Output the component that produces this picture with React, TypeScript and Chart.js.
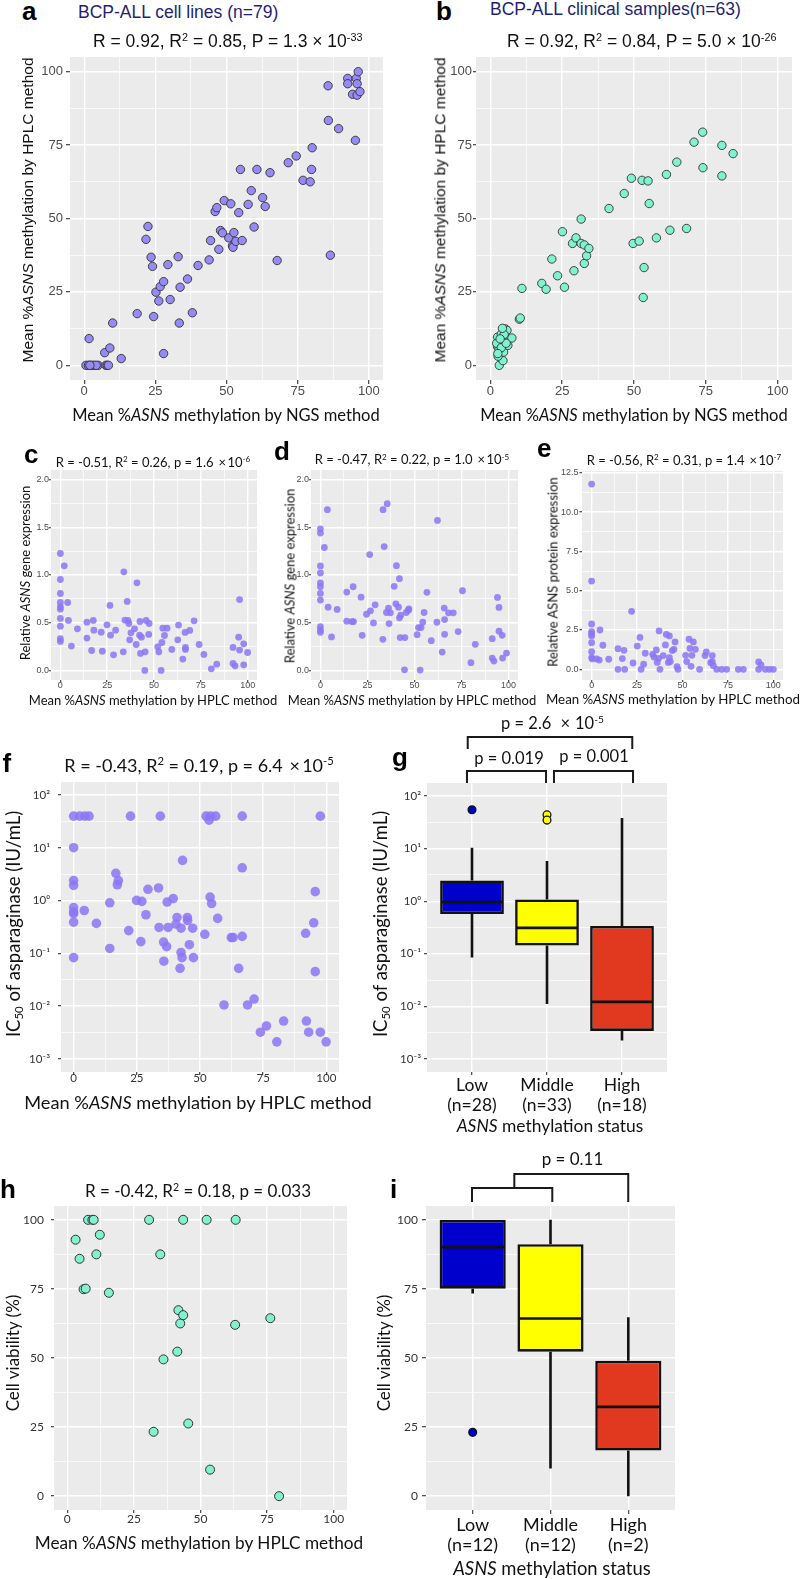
import React, { useEffect, useRef } from 'react';
import { Chart, registerables } from 'chart.js';
Chart.register(...registerables);

// ---------------- data ----------------
// a: BCP-ALL cell lines, NGS vs HPLC
const aNGS = [1.7,0.6,2.3,3.5,4.9,7.6,8.1,7.2,9.0,10.0,13.0,18.6,21.7,22.4,23.5,24.0,24.4,25.2,26.2,26.7,27.9,27.9,29.4,30.2,33.0,33.4,33.7,36.3,38.0,40.0,43.9,44.4,46.0,46.6,47.3,47.9,48.6,49.2,50.8,51.5,52.1,52.3,52.6,53.3,54.3,54.9,55.5,57.6,58.7,59.7,60.7,62.7,63.6,65.3,67.8,71.7,74.5,76.9,79.4,79.9,80.1,85.7,85.8,86.5,89.4,92.6,92.6,94.3,95.6,95.9,96.3,95.9,96.9,95.3,1.5,3.0,4.2,8.5,2.0];
const aHPLC = [9.1,0,0,0,0,0,0,4.3,5.9,14.4,2.3,17.6,42.9,47.3,36.8,33.7,16.6,24.9,21.9,26.8,28.5,4.0,34.3,22.4,37.0,14.4,26.6,29.4,17.9,34.0,35.9,42.5,52.4,53.7,39.5,45.9,45.1,56.1,43.4,55.0,40.7,40.2,45.2,42.2,52.0,66.7,42.5,54.8,59.5,47.1,66.7,57.1,54.1,65.6,35.7,69.0,71.3,63.0,62.5,66.7,74.1,95.2,83.4,37.5,80.6,97.7,95.9,92.3,97.7,95.9,100,92.0,93.2,76.6,0,0,0,0,0];
// b: clinical samples
const bNGS = [3.1,4.4,2.7,3.5,4.6,2.5,3.2,2.9,2.5,3.8,5.2,6.1,7.5,5.2,5.8,4.0,10.1,10.4,11.0,17.9,19.4,21.4,23.4,25.1,25.8,28.6,29.1,29.8,31.6,31.6,32.7,32.7,33.5,34.3,41.3,46.6,49.1,49.7,51.8,52.8,53.2,53.5,54.9,55.3,57.8,61.3,62.5,64.9,68.3,70.9,73.9,74.0,80.6,80.6,84.5,3.0,2.2,4.8,3.8,2.6,4.2,5.5,3.4];
const bHPLC = [0,1.6,3.1,4.8,4.5,6.4,7.0,8.1,9.6,10.6,9.3,6.8,9.3,12.4,11.9,8.7,15.7,16.1,26.2,27.9,25.9,36.2,30.5,45.5,26.6,41.5,32.2,43.4,49.8,41.5,41.0,34.7,37.3,39.8,53.4,58.5,63.7,41.5,42.3,63.0,23.1,33.3,62.8,55.1,43.4,65.0,46.0,69.2,46.6,76.0,79.4,67.3,74.9,64.5,72.1,5.5,7.5,10.5,6.0,4.0,12.6,7.5,9.0];
// c: gene expression (set 1)
const cHPLC = [0,2.1,0,0,0,0,0,0,0,0,0,3.9,4.3,5.9,9.1,14.2,14.2,16.7,17.6,17.9,21.8,22.4,24.9,26.5,26.8,28.4,29.5,33.6,33.9,34.5,35.7,36.1,36.6,37.0,37.7,39.6,40.5,40.9,42.3,42.5,42.8,43.3,45.1,45.3,45.8,47.2,47.4,52.0,52.6,53.8,54.2,54.7,55.6,57.0,59.5,62.7,63.1,65.4,66.6,66.8,66.8,69.1,71.4,74.1,76.6,80.6,83.5,92.2,92.2,93.3,95.2,95.7,95.7,97.9,97.9,100];
const cGene = [1.225,1.096,0.953,0.806,0.712,0.667,0.642,0.545,0.464,0.332,0.304,0.712,0.524,0.255,0.436,0.506,0.339,0.209,0.524,0.422,0.401,0.202,0.478,0.681,0.370,0.164,0.422,0.195,1.033,0.527,0.723,0.524,0.492,0.321,0.394,0.436,0.272,0.918,0.370,0.513,0.178,0.349,0.0,0.195,0.524,0.377,0.492,0.248,0.195,0.0,0.293,0.443,0.366,0.443,0.220,0.321,0.475,0.119,0.398,0.220,0.241,0.419,0.520,0.272,0.168,0.017,0.066,0.241,0.073,0.049,0.349,0.743,0.213,0.279,0.059,0.188];
// d: gene expression (set 2)
const dHPLC = [3.7,0,0,2.1,0,0,0,0,0,0,0,0,0,4.1,5.9,8.9,14.0,14.0,16.7,17.4,17.6,21.6,22.2,24.5,26.2,26.6,28.2,29.1,33.2,33.3,33.9,35.5,35.1,36.2,36.5,37.2,39.2,40.1,40.4,41.5,42.0,42.0,42.4,42.7,44.7,44.9,45.6,46.8,47.0,51.4,52.1,53.0,53.5,54.4,55.1,56.6,58.9,61.9,62.2,64.7,65.8,66.0,66.0,68.1,70.6,73.2,75.5,80.0,82.3,91.3,91.3,92.2,94.1,94.9,94.9,96.6,96.8,98.9];
const dGene = [1.684,1.484,1.439,1.288,1.095,1.021,0.916,0.877,0.807,0.737,0.460,0.425,0.400,0.663,0.351,0.639,0.821,0.516,0.512,0.877,0.512,0.768,0.368,0.589,1.214,0.625,0.498,0.688,0.326,1.684,1.298,1.747,0.607,0.653,0.491,0.604,0.881,0.698,1.098,0.663,0.961,0.551,0.344,0.579,0.007,0.344,0.607,0.632,0.646,0.375,0.449,0.004,0.449,0.505,0.607,0.818,0.312,0.505,1.572,0.193,0.653,0.533,0.379,0.604,0.604,0.407,0.835,0.081,0.274,0.333,0.130,0.098,0.765,0.660,0.411,0.368,0.130,0.182];
// e: protein expression
const eHPLC = [0,0,0,0,0,0,0,0,0,0.4,2.8,4.2,4.6,6.2,9.4,14.5,14.5,16.9,17.8,18.2,22.0,22.8,25.1,26.6,27.2,28.6,29.5,33.6,34.3,35.6,36.1,36.9,37.1,37.6,39.4,40.6,41.1,42.2,42.8,42.8,43.3,44.4,45.3,45.9,47.0,47.5,51.7,52.3,53.6,54.1,54.7,55.2,56.0,57.1,59.4,62.4,63.1,65.5,66.4,66.4,67.0,68.8,71.6,74.3,80.7,83.5,91.9,91.9,93.2,95.6,97.8,100];
const eProtein = [11.78,5.61,2.88,2.39,2.25,2.12,1.69,1.12,0.74,0.66,0.66,0.59,2.50,1.53,0.64,1.31,0,0.68,1.21,0,3.69,0.40,1.48,2.03,0,0.32,1.02,0.95,0.78,1.23,0.44,0.70,2.44,0,0.87,1.55,2.22,0.44,2.12,0.74,0.49,1.19,1.27,1.74,0.17,0,0.89,0.49,1.91,1.33,0.19,0.89,1.74,1.27,0,0.87,1.10,0.42,0.87,0.49,0.23,0,0,0,0,0,0.47,0,0.28,0,0,0];
// f: IC50 of asparaginase
const fHPLC = [0,2.4,4.4,6.1,22.5,34.3,52.4,54.2,56.2,66.7,97.6,53.6,0,43.1,66.7,16.7,17.7,17.3,0,0,29.4,33.6,95.6,54.0,39.4,24.9,27.0,14.3,37.0,54.6,0,0,4.2,0,28.6,40.9,45.0,57.0,45.1,0,9.0,95.0,40.5,33.8,37.4,42.5,47.1,21.8,51.9,91.8,62.4,63.1,66.7,26.6,35.6,36.8,45.8,14.3,42.5,0,42.9,47.4,35.7,42.1,65.3,95.6,71.4,59.5,68.8,83.1,92.1,76.3,73.9,93.0,97.6,80.4,99.9];
const fIC50 = [40,40,40,40,40,40,40,40,40,40,40,33.5,10.1,5.8,4.2,3.3,2.4,2.0,2.4,1.95,1.64,1.74,1.48,1.17,1.09,1.01,0.97,0.91,0.94,0.88,0.74,0.61,0.65,0.57,0.54,0.48,0.48,0.46,0.42,0.39,0.37,0.38,0.36,0.31,0.31,0.30,0.30,0.27,0.23,0.24,0.20,0.20,0.21,0.167,0.164,0.134,0.146,0.124,0.104,0.083,0.083,0.083,0.071,0.052,0.052,0.045,0.0136,0.0105,0.0105,0.0052,0.0052,0.0042,0.0032,0.0032,0.0032,0.0021,0.0021];
// g: IC50 by methylation group (box summaries)
const groupNames = ['Low', 'Middle', 'High'];
const gCounts = ['(n=28)', '(n=33)', '(n=18)'];
const gLower = [0.0845, 0.0111, 0.00223];
const gQ1 = [0.571, 0.143, 0.0034];
const gMedian = [0.966, 0.31, 0.0121];
const gQ3 = [2.49, 1.08, 0.339];
const gUpper = [10.4, 5.8, 38.2];
const gOutGroup = [1, 2, 2];
const gOutValue = [55, 44, 35];
// h: cell viability
const hHPLC = [3.1,4.6,6.1,6.9,7.8,9.4,9.9,10.9,12.2,15.6,30.7,32.4,34.9,36.1,41.3,41.7,42.4,43.5,43.5,45.4,52.3,53.6,63.0,63.2,76.2,79.5];
const hViability = [92.8,85.9,74.9,75.1,100,100,100,87.5,94.6,73.6,100,23.3,87.5,49.5,52.3,67.3,62.5,100,65.5,26.3,100,9.6,62.0,100,64.4,0];
// i: viability by group
const iCounts = ['(n=12)', '(n=12)', '(n=2)'];
const iLower = [73.3, 10.0, 0];
const iQ1 = [75.1, 52.3, 16.5];
const iMedian = [90.1, 64.3, 32.3];
const iQ3 = [100, 91.2, 49.0];
const iUpper = [100, 100, 64.7];
const iOutGroup = [1];
const iOutValue = [23.1];

// ticks
const pctTicks = [0, 12.5, 25, 37.5, 50, 62.5, 75, 87.5, 100];
const pctMajor = [0, 25, 50, 75, 100];
const pctLabels = ['0', '25', '50', '75', '100'];
const geneTicks = [0, 0.25, 0.5, 0.75, 1, 1.25, 1.5, 1.75, 2];
const geneMajor = [0, 0.5, 1, 1.5, 2];
const geneLabels = ['0.0', '0.5', '1.0', '1.5', '2.0'];
const protTicks = [0, 1.25, 2.5, 3.75, 5, 6.25, 7.5, 8.75, 10, 11.25, 12.5];
const protMajor = [0, 2.5, 5, 7.5, 10, 12.5];
const protLabels = ['0.0', '2.5', '5.0', '7.5', '10.0', '12.5'];
const logTicks = [1e-3, 10 ** -2.5, 1e-2, 10 ** -1.5, 1e-1, 10 ** -0.5, 1, 10 ** 0.5, 10, 10 ** 1.5, 100];
const logMajor = [1e-3, 1e-2, 1e-1, 1, 10, 100];
const logLabels = ['10⁻³', '10⁻²', '10⁻¹', '10⁰', '10¹', '10²'];
const groupTicks = [1, 2, 3];

// ---------------- styling ----------------
const NAVY = '#1f1f73';
const SANS = '"Liberation Sans", Arial, Helvetica, sans-serif';
const CAL = 'Lato, "Open Sans", sans-serif';
const PURPLE_EDGE = '#968af6';
const PURPLE_SOFT = 'rgba(140,118,245,0.85)';
const AQUA = '#80f2d0';
const BOX_COLORS = ['#0000cc', '#ffff00', '#e0391f'];
const BOX_W = 0.85;

type Geo = { left: number; top: number; width: number; height: number; padT: number; padR: number; yW: number; xH: number };
function geom(pl: number, pt: number, pr: number, pb: number, yW: number, xH: number, padT = 22, padR = 14): Geo {
  return { left: pl - yW, top: pt - padT, width: pr - pl + yW + padR, height: pb - pt + padT + xH, padT, padR, yW, xH };
}

const near = (a: number, b: number) => Math.abs(a - b) <= 1e-9 * Math.max(Math.abs(a), Math.abs(b), 1e-12);

function mkAxis(o: any) {
  const idx = (v: number) => o.major.findIndex((m: number) => near(m, v));
  return {
    type: o.type || 'linear',
    position: o.pos === 'x' ? 'bottom' : 'left',
    min: o.min,
    max: o.max,
    bounds: 'data',
    offset: false,
    afterBuildTicks: (s: any) => { s.ticks = o.ticks.map((v: number) => ({ value: v })); },
    afterFit: (s: any) => { if (o.pos === 'x') s.height = o.size; else s.width = o.size; },
    ticks: {
      autoSkip: false, maxRotation: 0, minRotation: 0,
      padding: o.pad, color: o.color, font: o.font,
      callback: (v: number) => { const k = idx(v); return k < 0 ? '' : o.labels[k]; },
    },
    grid: {
      offset: false,
      color: '#ffffff',
      lineWidth: (c: any) => (c.tick && idx(c.tick.value) >= 0 ? 1.4 : 0.7),
      drawTicks: true,
      tickLength: o.tl,
      tickWidth: 1.1,
      tickColor: (c: any) => (c.tick && idx(c.tick.value) >= 0 ? '#333333' : 'rgba(0,0,0,0)'),
    },
    border: { display: false },
  };
}

const panelBg = {
  id: 'panelBg',
  beforeDraw(chart: any) {
    const { ctx, chartArea } = chart;
    ctx.save();
    ctx.fillStyle = '#ebebeb';
    ctx.fillRect(chartArea.left, chartArea.top, chartArea.right - chartArea.left, chartArea.bottom - chartArea.top);
    ctx.restore();
  },
};

function bracketPlugin(specs: any[]) {
  return {
    id: 'brackets',
    afterDraw(chart: any) {
      const { ctx, chartArea } = chart;
      const x = chart.scales.x;
      ctx.save();
      ctx.strokeStyle = '#1a1a1a';
      ctx.lineWidth = 2;
      ctx.lineJoin = 'miter';
      specs.forEach((b) => {
        const x1 = x.getPixelForValue(b.from);
        const x2 = x.getPixelForValue(b.to);
        ctx.beginPath();
        ctx.moveTo(x1, chartArea.top + b.l);
        ctx.lineTo(x1, chartArea.top + b.y);
        ctx.lineTo(x2, chartArea.top + b.y);
        ctx.lineTo(x2, chartArea.top + b.r);
        ctx.stroke();
      });
      ctx.restore();
    },
  };
}

function baseOptions(geo: Geo, x: any, y: any) {
  return {
    responsive: false,
    animation: false,
    events: [],
    layout: { padding: { top: geo.padT, right: geo.padR, left: 0, bottom: 0 } },
    plugins: { legend: { display: false }, tooltip: { enabled: false } },
    scales: { x: mkAxis({ ...x, pos: 'x', size: geo.xH }), y: mkAxis({ ...y, pos: 'y', size: geo.yW }) },
  };
}

function scatterConfig(geo: Geo, xs: number[], ys: number[], pt: any, x: any, y: any) {
  return {
    type: 'scatter',
    data: {
      datasets: [{
        data: xs.map((v, i) => ({ x: v, y: ys[i] })),
        pointRadius: pt.r, pointHoverRadius: pt.r,
        backgroundColor: pt.fill, borderColor: pt.stroke, borderWidth: pt.bw,
        clip: false,
      }],
    },
    options: baseOptions(geo, x, y),
    plugins: [panelBg],
  };
}

function boxConfig(geo: Geo, s: any, x: any, y: any, brackets: any[]) {
  const boxes = s.q1.map((q: number, i: number) => ({ x: i + 1, y: [q, s.q3[i]] }));
  const meds = s.med.map((m: number, i: number) => ({ x: i + 1, y: m }));
  const whisk: any[] = [];
  s.q1.forEach((q: number, i: number) => {
    whisk.push({ x: i + 1, y: s.q3[i] }, { x: i + 1, y: s.hi[i] }, { x: i + 1, y: null });
    whisk.push({ x: i + 1, y: q }, { x: i + 1, y: s.lo[i] }, { x: i + 1, y: null });
  });
  const outs = s.outG.map((g: number, i: number) => ({ x: g, y: s.outV[i] }));
  const halfW = (ctx: any) => {
    const sc = ctx.chart.scales.x;
    return sc.getPixelForValue(1 + BOX_W / 2) - sc.getPixelForValue(1) - 1.2;
  };
  return {
    type: 'scatter',
    data: {
      datasets: [
        { type: 'scatter', data: outs, order: 0, pointRadius: 3.9, pointHoverRadius: 3.9,
          backgroundColor: s.outG.map((g: number) => BOX_COLORS[g - 1]), borderColor: '#111', borderWidth: 1.3, clip: false },
        { type: 'scatter', data: meds, order: 1, pointStyle: 'line', pointRadius: halfW, pointHoverRadius: halfW,
          borderColor: '#111', borderWidth: 2.7, clip: false },
        { type: 'bar', data: boxes, order: 2, backgroundColor: BOX_COLORS, borderColor: '#111', borderWidth: 2.6,
          borderSkipped: false, barPercentage: BOX_W, categoryPercentage: 1, grouped: false },
        { type: 'scatter', data: whisk, order: 3, showLine: true, spanGaps: false, pointRadius: 0, pointHoverRadius: 0,
          borderColor: '#111', borderWidth: 2.6, clip: false },
      ],
    },
    options: baseOptions(geo, x, y),
    plugins: [panelBg, bracketPlugin(brackets)],
  };
}

// ---------------- geometry ----------------
const geoA = geom(70, 57, 383, 380, 50, 30);
const geoB = geom(476, 57, 792, 380, 50, 30);
const geoC = geom(51, 470, 257, 680, 40, 20);
const geoD = geom(311, 470, 518, 680, 40, 20);
const geoE = geom(582, 471, 783, 680, 40, 20);
const geoF = geom(61, 782, 339, 1072, 60, 30);
const geoG = geom(427, 783, 667, 1072, 40, 62, 56);
const geoH = geom(54, 1206, 347, 1510, 50, 28);
const geoI = geom(426, 1206, 675, 1510, 40, 62, 40);

const fSans13 = { family: SANS, size: 13, lineHeight: 1 };
const fSans9 = { family: SANS, size: 9, lineHeight: 1 };
const fCal = (size: number, lh = 1) => ({ family: CAL, size, lineHeight: lh });

const pctAxis = (tl: number, pad: number, font: any, color: string) => ({ min: -5, max: 105, ticks: pctTicks, major: pctMajor, labels: pctLabels, tl, pad, font, color });

const configs: { geo: Geo; make: () => any }[] = [
  { geo: geoA, make: () => scatterConfig(geoA, aNGS, aHPLC, { r: 4.2, fill: PURPLE_EDGE, stroke: '#333', bw: 0.9 },
      pctAxis(4, 0.5, fSans13, '#4d4d4d'), pctAxis(4, 3, fSans13, '#4d4d4d')) },
  { geo: geoB, make: () => scatterConfig(geoB, bNGS, bHPLC, { r: 4.2, fill: AQUA, stroke: '#333', bw: 0.9 },
      pctAxis(4, 0.5, fSans13, '#4d4d4d'), pctAxis(3, 1, fSans13, '#4d4d4d')) },
  { geo: geoC, make: () => scatterConfig(geoC, cHPLC, cGene, { r: 3.4, fill: PURPLE_SOFT, stroke: 'rgba(0,0,0,0)', bw: 0 },
      pctAxis(2, -0.5, fSans9, '#4d4d4d'),
      { min: -0.1, max: 2.1, ticks: geneTicks, major: geneMajor, labels: geneLabels, tl: 2, pad: 0, font: fSans9, color: '#4d4d4d' }) },
  { geo: geoD, make: () => scatterConfig(geoD, dHPLC, dGene, { r: 3.4, fill: PURPLE_SOFT, stroke: 'rgba(0,0,0,0)', bw: 0 },
      pctAxis(2, -0.5, fSans9, '#4d4d4d'),
      { min: -0.1, max: 2.1, ticks: geneTicks, major: geneMajor, labels: geneLabels, tl: 2, pad: 0, font: fSans9, color: '#4d4d4d' }) },
  { geo: geoE, make: () => scatterConfig(geoE, eHPLC, eProtein, { r: 3.4, fill: PURPLE_SOFT, stroke: 'rgba(0,0,0,0)', bw: 0 },
      { min: -5.3, max: 105.3, ticks: pctTicks, major: pctMajor, labels: pctLabels, tl: 2, pad: -0.5, font: fSans9, color: '#4d4d4d' },
      { min: -0.68, max: 12.61, ticks: protTicks, major: protMajor, labels: protLabels, tl: 2.5, pad: 1, font: fSans9, color: '#4d4d4d' }) },
  { geo: geoF, make: () => scatterConfig(geoF, fHPLC, fIC50, { r: 4.8, fill: PURPLE_SOFT, stroke: 'rgba(0,0,0,0)', bw: 0 },
      pctAxis(3, -2, fCal(11.5), '#333'),
      { type: 'logarithmic', min: 10 ** -3.25, max: 10 ** 2.25, ticks: logTicks, major: logMajor, labels: logLabels, tl: 3, pad: 8, font: fCal(11.5), color: '#333' }) },
  { geo: geoG, make: () => boxConfig(geoG,
      { lo: gLower, q1: gQ1, med: gMedian, q3: gQ3, hi: gUpper, outG: gOutGroup, outV: gOutValue },
      { min: 0.4, max: 3.6, ticks: groupTicks, major: groupTicks, labels: groupNames.map((n, i) => [n, gCounts[i]]), tl: 3, pad: 0, font: fCal(17.5, 1.15), color: '#111' },
      { type: 'logarithmic', min: 10 ** -3.25, max: 10 ** 2.25, ticks: logTicks, major: logMajor, labels: logLabels, tl: 3, pad: 3, font: fCal(11.5), color: '#333' },
      [
        { from: 0.943, to: 3.137, y: -46, l: -34, r: -34 },
        { from: 0.933, to: 1.987, y: -12, l: 0, r: 0 },
        { from: 2.093, to: 3.147, y: -12, l: 0, r: 0 },
      ]) },
  { geo: geoH, make: () => scatterConfig(geoH, hHPLC, hViability, { r: 4.5, fill: AQUA, stroke: '#333', bw: 1 },
      pctAxis(3, 0.5, fCal(12), '#333'), pctAxis(3, 7, fCal(12), '#333')) },
  { geo: geoI, make: () => boxConfig(geoI,
      { lo: iLower, q1: iQ1, med: iMedian, q3: iQ3, hi: iUpper, outG: iOutGroup, outV: iOutValue },
      { min: 0.4, max: 3.6, ticks: groupTicks, major: groupTicks, labels: groupNames.map((n, i) => [n, iCounts[i]]), tl: 4, pad: 1, font: fCal(18, 1.1), color: '#111' },
      pctAxis(4, 4, fCal(12), '#333'),
      [
        { from: 1.535, to: 2.999, y: -32, l: -18, r: -4 },
        { from: 0.991, to: 2.023, y: -18, l: -4, r: -4 },
      ]) },
];

// ---------------- components ----------------
function ChartCanvas({ geo, make }: { geo: Geo; make: () => any }) {
  const ref = useRef<HTMLCanvasElement | null>(null);
  useEffect(() => {
    if (!ref.current) return;
    const ch = new Chart(ref.current, make());
    return () => ch.destroy();
  }, []);
  return (
    <canvas ref={ref} width={geo.width} height={geo.height}
      style={{ position: 'absolute', left: geo.left, top: geo.top, width: geo.width, height: geo.height }} />
  );
}

function T({ x, y, s, f = CAL, w = 400, c = '#111', a = 'm', r = false, children }: any) {
  const tx = a === 's' ? '0' : a === 'e' ? '-100%' : '-50%';
  return (
    <div style={{
      position: 'absolute', left: x, top: y, fontFamily: f, fontSize: s, fontWeight: w, color: c,
      lineHeight: 1, whiteSpace: 'nowrap', transform: `translate(${tx},-50%)${r ? ' rotate(-90deg)' : ''}`,
    }}>{children}</div>
  );
}

function L({ x, base, children }: any) {
  const size = 26;
  return (
    <div style={{ position: 'absolute', left: x, top: base - 0.8465 * size, fontFamily: SANS, fontWeight: 700, fontSize: size, lineHeight: 1, color: '#000' }}>{children}</div>
  );
}

const Sup = ({ children }: any) => <span style={{ fontSize: '0.62em', position: 'relative', top: '-0.55em', lineHeight: 0 }}>{children}</span>;
const Sub = ({ children }: any) => <span style={{ fontSize: '0.62em', position: 'relative', top: '0.3em', lineHeight: 0 }}>{children}</span>;
const X = () => <span style={{ margin: '0 0.12em' }}>×</span>;

export default function App() {
  return (
    <div style={{ position: 'absolute', left: 0, top: 0, width: 800, height: 1579, overflow: 'hidden', background: '#fff' }}>
      {configs.map((c, i) => <ChartCanvas key={i} geo={c.geo} make={c.make} />)}

      {/* a */}
      <L x={22} base={20}>a</L>
      <T x={78} y={12.7} s={17.5} f={SANS} c={NAVY} a="s">BCP-ALL cell lines (n=79)</T>
      <T x={93} y={41.7} s={17.5} f={SANS} a="s">R = 0.92, R<Sup>2</Sup> = 0.85, P = 1.3 × 10<Sup>-33</Sup></T>
      <T x={28} y={210} s={15.5} f={SANS} r>Mean %<i>ASNS</i> methylation by HPLC method</T>
      <T x={226} y={415} s={16.5}>Mean %<i>ASNS</i> methylation by NGS method</T>

      {/* b */}
      <L x={436} base={20}>b</L>
      <T x={490} y={10} s={17.5} f={SANS} c={NAVY} a="s">BCP-ALL clinical samples(n=63)</T>
      <T x={507} y={41.5} s={17.5} f={SANS} a="s">R = 0.92, R<Sup>2</Sup> = 0.84, P = 5.0 × 10<Sup>-26</Sup></T>
      <T x={440} y={210} s={15.5} f={SANS} r>Mean %<i>ASNS</i> methylation by HPLC method</T>
      <T x={634} y={415} s={16.5}>Mean %<i>ASNS</i> methylation by NGS method</T>

      {/* c */}
      <L x={24} base={463}>c</L>
      <T x={153} y={461.5} s={13}>R = -0.51, R<Sup>2</Sup> = 0.26, p = 1.6 <X />10<Sup>-6</Sup></T>
      <T x={25} y={573} s={13} r>Relative <i>ASNS</i> gene expression</T>
      <T x={153} y={700} s={13}>Mean %<i>ASNS</i> methylation by HPLC method</T>

      {/* d */}
      <L x={274} base={460}>d</L>
      <T x={412} y={459} s={13}>R = -0.47, R<Sup>2</Sup> = 0.22, p = 1.0 <X />10<Sup>-5</Sup></T>
      <T x={290} y={576} s={13} r>Relative <i>ASNS</i> gene expression</T>
      <T x={412} y={700} s={13}>Mean %<i>ASNS</i> methylation by HPLC method</T>

      {/* e */}
      <L x={537} base={457}>e</L>
      <T x={684} y={459.5} s={13}>R = -0.56, R<Sup>2</Sup> = 0.31, p = 1.4 <X />10<Sup>-7</Sup></T>
      <T x={553} y={572} s={13} r>Relative ASNS protein expression</T>
      <T x={673} y={700} s={13.3}>Mean %<i>ASNS</i> methylation by HPLC method</T>

      {/* f */}
      <L x={2.5} base={772}>f</L>
      <T x={199} y={764.5} s={18}>R = -0.43, R<Sup>2</Sup> = 0.19, p = 6.4 <X />10<Sup>-5</Sup></T>
      <T x={13} y={924} s={18.5} r>IC<Sub>50</Sub> of asparaginase (IU/mL)</T>
      <T x={198} y={1102} s={18.2}>Mean %<i>ASNS</i> methylation by HPLC method</T>

      {/* g */}
      <L x={392} base={766}>g</L>
      <T x={552.5} y={723} s={16.5}>p = 2.6 <span style={{ margin: '0 0.3em' }}>×</span>10<Sup>-5</Sup></T>
      <T x={509} y={758} s={16.5}>p = 0.019</T>
      <T x={594} y={756} s={16.5}>p = 0.001</T>
      <T x={380} y={924} s={18.5} r>IC<Sub>50</Sub> of asparaginase (IU/mL)</T>
      <T x={550} y={1126} s={17.4}><i>ASNS</i> methylation status</T>

      {/* h */}
      <L x={0} base={1198}>h</L>
      <T x={198} y={1189.5} s={17}>R = -0.42, R<Sup>2</Sup> = 0.18, p = 0.033</T>
      <T x={12} y={1353} s={17} r>Cell viability (%)</T>
      <T x={199} y={1543} s={17.2}>Mean %<i>ASNS</i> methylation by HPLC method</T>

      {/* i */}
      <L x={390} base={1198}>i</L>
      <T x={572.5} y={1157.5} s={17}>p = 0.11</T>
      <T x={383} y={1353} s={17} r>Cell viability (%)</T>
      <T x={552} y={1568} s={18.4}><i>ASNS</i> methylation status</T>
    </div>
  );
}
